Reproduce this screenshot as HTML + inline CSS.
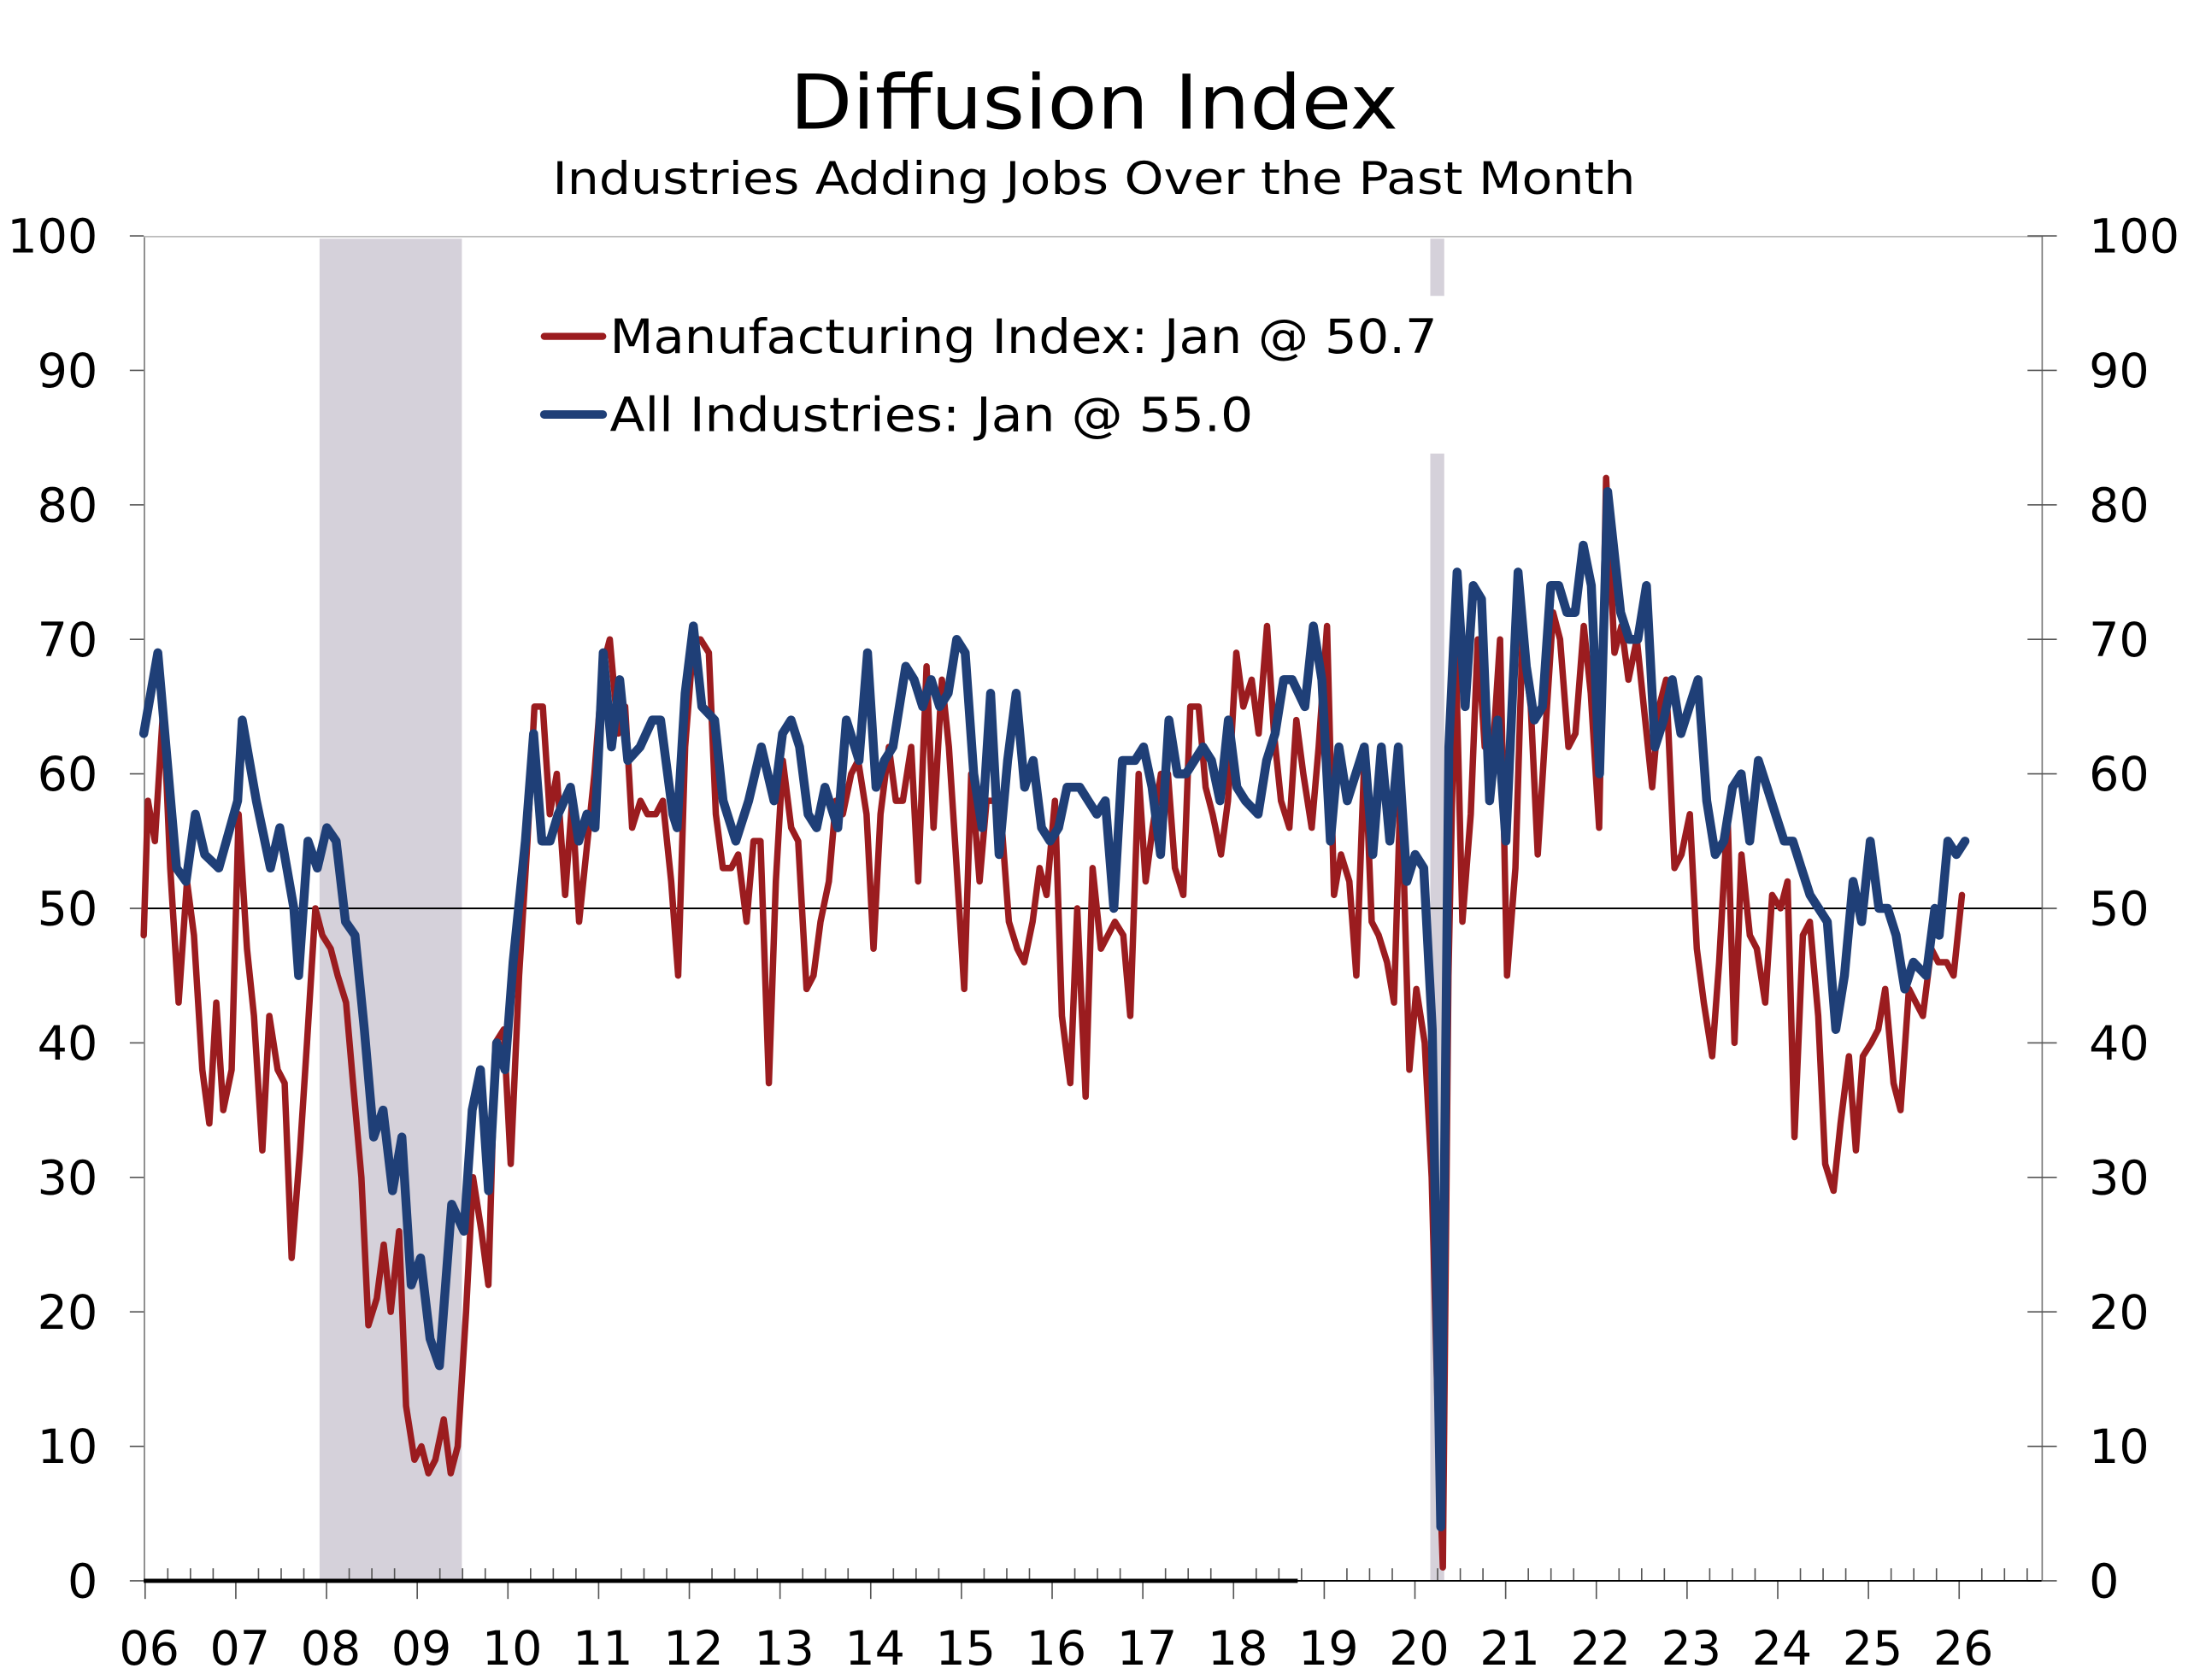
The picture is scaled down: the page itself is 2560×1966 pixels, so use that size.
<!DOCTYPE html>
<html><head><meta charset="utf-8"><style>html,body{margin:0;padding:0;background:#fff}svg{display:block}text{font-family:"DejaVu Sans","Liberation Sans",sans-serif;fill:#000}</style></head>
<body>
<svg id="s" width="2560" height="1966" viewBox="0 0 1568 1204" xmlns="http://www.w3.org/2000/svg">
<rect width="1568" height="1204" fill="#fff"/>
<text x="784" y="92" font-size="54" text-anchor="middle" textLength="436" lengthAdjust="spacingAndGlyphs">Diffusion Index</text>
<text x="784" y="139" font-size="32" text-anchor="middle" textLength="776" lengthAdjust="spacingAndGlyphs">Industries Adding Jobs Over the Past Month</text>
<rect x="229" y="171" width="102" height="962" fill="#d5d1da"/>
<rect x="1025" y="171" width="10" height="962" fill="#d5d1da"/>
<line x1="103.5" y1="169" x2="103.5" y2="1133" stroke="#777" stroke-width="1"/>
<line x1="1463.5" y1="169" x2="1463.5" y2="1133" stroke="#777" stroke-width="1"/>
<line x1="103" y1="169.5" x2="1463" y2="169.5" stroke="#bbb" stroke-width="1"/>
<g id="yax"></g>
<g id="xax"></g>
<line x1="103" y1="651" x2="1463" y2="651" stroke="#000" stroke-width="1.3"/>
<line x1="103" y1="1133" x2="1463" y2="1133" stroke="#000" stroke-width="1.2"/>
<line x1="103" y1="1133" x2="930" y2="1133" stroke="#000" stroke-width="3"/>
<rect x="368" y="212" width="684" height="113" fill="#fff"/>
<line x1="390" y1="241" x2="432" y2="241" stroke="#9b1c1f" stroke-width="5" stroke-linecap="round"/>
<line x1="390" y1="297" x2="432" y2="297" stroke="#1f3f77" stroke-width="6" stroke-linecap="round"/>
<text x="437" y="253" font-size="34" textLength="593" lengthAdjust="spacingAndGlyphs">Manufacturing Index: Jan @ 50.7</text>
<text x="437" y="309" font-size="34" textLength="461" lengthAdjust="spacingAndGlyphs">All Industries: Jan @ 55.0</text>
<polyline id="red" fill="none" stroke="#9b1c1f" stroke-width="4.6" stroke-linejoin="round" stroke-linecap="round"/>
<polyline id="blue" fill="none" stroke="#1f3f77" stroke-width="6.4" stroke-linejoin="round" stroke-linecap="round"/>
</svg>
<script>
var NS="http://www.w3.org/2000/svg";
function Y(v){return 1133-v*9.64;}
function el(p,t,a,txt){var e=document.createElementNS(NS,t);for(var k in a)e.setAttribute(k,a[k]);if(txt!==undefined)e.textContent=txt;document.getElementById(p).appendChild(e);}
for(var v=0;v<=100;v+=10){var y=Y(v);
el("yax","line",{x1:93,y1:y,x2:103,y2:y,stroke:"#555","stroke-width":1});
el("yax","line",{x1:1453,y1:y,x2:1474,y2:y,stroke:"#555","stroke-width":1});
el("yax","text",{x:70,y:y+12,"font-size":34,"text-anchor":"end"},String(v));
el("yax","text",{x:1497,y:y+12,"font-size":34},String(v));}
for(var i=0;i<=20;i++){var x=104+65*i;
el("xax","line",{x1:x,y1:1133,x2:x,y2:1146,stroke:"#555","stroke-width":1});
for(var q=1;q<4;q++){var xq=x+65*q/4;if(xq<1463)el("xax","line",{x1:xq,y1:1124,x2:xq,y2:1133,stroke:"#555","stroke-width":1});}
var yr=(6+i);el("xax","text",{x:x+3,y:1193,"font-size":34,"text-anchor":"middle"},(yr<10?"0":"")+yr);}
var red=[103,48,106,58,111,55,117,65,122,53,128,43,134,52,139,48,145,38,150,34,155,43,160,35,166,38,171,57,177,47,182,42,188,32,193,42,199,38,204,37,209,24,215,32,220,40,226,50,231,48,237,47,242,45,248,43,253,37,259,30,264,19,270,21,275,25,280,20,286,26,291,13,297,9,302,10,307,8,312,9,318,12,323,8,328,10,334,20,339,30,345,26,350,22,355,40,361,41,366,31,372,45,378,55,383,65,389,65,394,57,399,60,405,51,410,58,415,49,421,55,426,60,432,68,437,70,443,63,448,65,453,56,459,58,464,57,470,57,475,58,481,52,486,45,491,62,497,70,502,70,508,69,513,57,518,53,524,53,529,54,535,49,540,55,545,55,551,37,556,52,561,61,567,56,572,55,578,44,583,45,588,49,594,52,599,58,604,57,610,60,615,61,621,57,626,47,631,57,637,62,642,58,647,58,653,62,658,52,664,68,669,56,675,67,680,62,685,54,691,44,696,60,702,52,707,58,713,58,718,56,723,49,729,47,734,46,740,49,745,53,750,51,756,58,761,42,767,37,772,50,778,36,783,53,789,47,794,48,799,49,805,48,810,42,816,60,821,52,826,56,832,60,837,60,842,53,848,51,853,65,859,65,864,59,869,57,875,54,880,58,886,69,891,65,897,67,902,63,908,71,913,63,918,58,924,56,929,64,934,60,940,56,945,62,951,71,956,51,961,54,967,52,972,45,978,62,983,49,988,48,994,46,999,43,1004,60,1010,38,1015,44,1021,40,1026,30,1031,10,1034,1,1038,45,1043,70,1048,49,1054,57,1059,70,1064,62,1070,62,1075,70,1080,45,1086,53,1091,70,1097,65,1102,54,1108,64,1113,72,1118,70,1124,62,1129,63,1135,71,1140,66,1146,56,1151,82,1157,69,1162,71,1167,67,1173,70,1178,65,1184,59,1189,65,1194,67,1200,53,1205,54,1211,57,1216,47,1221,43,1227,39,1232,46,1238,57,1243,40,1248,54,1254,48,1259,47,1265,43,1270,51,1276,50,1281,52,1286,33,1292,48,1297,49,1303,42,1308,31,1314,29,1319,34,1325,39,1330,32,1335,39,1341,40,1346,41,1351,44,1357,37,1362,35,1368,44,1373,43,1378,42,1384,47,1389,46,1395,46,1400,45,1406,51];
var p=[];for(var i=0;i<red.length;i+=2)p.push(red[i]+","+Y(red[i+1]).toFixed(1));
document.getElementById("red").setAttribute("points",p.join(" "));
var blue=[0,63,0.15,69,0.35,53,0.45,52,0.55,57,0.65,54,0.8,53,1.0,58,1.05,64,1.2,58,1.35,53,1.45,56,1.6,50,1.65,45,1.75,55,1.85,53,1.95,56,2.05,55,2.15,49,2.25,48,2.35,41,2.45,33,2.55,35,2.65,29,2.75,33,2.85,22,2.95,24,3.05,18,3.15,16,3.3,28,3.45,26,3.55,35,3.65,38,3.75,29,3.85,40,3.95,38,4.05,46,4.2,55,4.3,63,4.4,55,4.5,55,4.6,57,4.75,59,4.85,55,4.95,57,5.05,56,5.15,69,5.25,62,5.35,67,5.45,61,5.6,62,5.75,64,5.85,64,6.0,57,6.05,56,6.15,66,6.25,71,6.35,65,6.5,64,6.6,58,6.75,55,6.9,58,7.05,62,7.2,58,7.3,63,7.4,64,7.5,62,7.6,57,7.7,56,7.8,59,7.95,56,8.05,64,8.2,61,8.3,69,8.4,59,8.5,61,8.6,62,8.75,68,8.85,67,8.95,65,9.05,67,9.15,65,9.25,66,9.35,70,9.45,69,9.55,60,9.65,56,9.75,66,9.85,54,9.95,61,10.05,66,10.15,59,10.25,61,10.35,56,10.45,55,10.55,56,10.65,59,10.8,59,10.9,58,11.0,57,11.1,58,11.2,50,11.3,61,11.45,61,11.55,62,11.65,59,11.75,54,11.85,64,11.95,60,12.05,60,12.15,61,12.25,62,12.35,61,12.45,58,12.55,64,12.65,59,12.75,58,12.9,57,13.0,61,13.1,63,13.2,67,13.3,67,13.45,65,13.55,71,13.65,67,13.75,55,13.85,62,13.95,58,14.05,60,14.15,62,14.25,54,14.35,62,14.45,55,14.55,62,14.65,52,14.75,54,14.85,53,14.95,41,15.05,4,15.15,62,15.25,75,15.35,65,15.45,74,15.55,73,15.65,58,15.75,64,15.85,55,16.0,75,16.1,68,16.2,64,16.3,65,16.4,74,16.5,74,16.6,72,16.7,72,16.8,77,16.9,74,17.0,60,17.1,81,17.25,72,17.35,70,17.45,70,17.55,74,17.65,62,17.75,64,17.85,67,17.95,63,18.05,65,18.15,67,18.25,58,18.35,54,18.45,55,18.55,59,18.65,60,18.75,55,18.85,61,18.95,59,19.05,57,19.15,55,19.25,55,19.35,53,19.45,51,19.55,50,19.65,49,19.75,41,19.85,45,19.95,52,20.05,49,20.15,55,20.25,50,20.35,50,20.45,48,20.55,44,20.65,46,20.8,45,20.9,50,20.95,48,21.05,55,21.15,54,21.25,55];
var A=[[0,0],[3.15,3.26],[6.25,6.06],[15.05,14.3],[17.1,16.14],[21.25,20.08]];
function remap(t){for(var i=1;i<A.length;i++){if(t<=A[i][0]){var a=A[i-1],b=A[i];return a[1]+(t-a[0])*(b[1]-a[1])/(b[0]-a[0]);}}return A[A.length-1][1];}
p=[];for(var i=0;i<blue.length;i+=2)p.push((103+65*remap(blue[i])).toFixed(1)+","+Y(blue[i+1]).toFixed(1));
document.getElementById("blue").setAttribute("points",p.join(" "));
</script>
</body></html>
